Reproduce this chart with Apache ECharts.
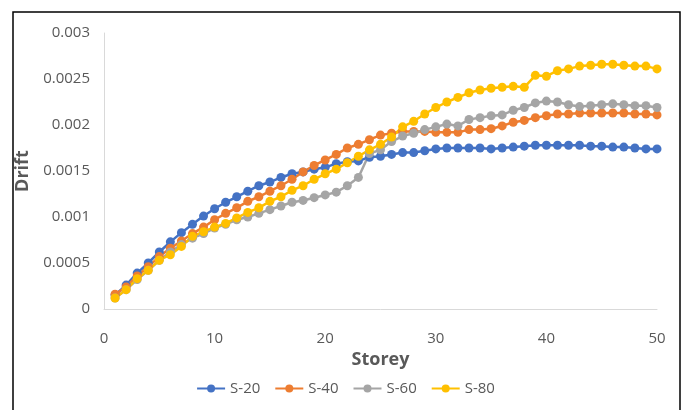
<!DOCTYPE html>
<html>
<head>
<meta charset="utf-8">
<script src="https://cdn.jsdelivr.net/npm/echarts@6/dist/echarts.min.js"></script>
<style>
  html, body { margin: 0; padding: 0; background: #fff; }
  #chart { width: 691px; height: 410px; }
</style>
</head>
<body>
<div id="chart"></div>
<script>
// Drift per storey
const storeys = Array.from({ length: 50 }, (_, i) => i + 1);
const seriesNames = ['S-20', 'S-40', 'S-60', 'S-80'];
const seriesColors = ['#4472C4', '#ED7D31', '#A5A5A5', '#FFC000'];

const s20 = [0.000152, 0.00026, 0.00039, 0.0005, 0.00062, 0.00073, 0.00083, 0.00092, 0.00101, 0.00109,
  0.00116, 0.00122, 0.00128, 0.00134, 0.00138, 0.00143, 0.00147, 0.00149, 0.00152, 0.00154,
  0.00158, 0.0016, 0.00161, 0.00165, 0.00166, 0.00168, 0.0017, 0.0017, 0.00172, 0.00174,
  0.00175, 0.00175, 0.00175, 0.00175, 0.00174, 0.00175, 0.00176, 0.00177, 0.00178, 0.00178,
  0.00178, 0.00178, 0.00178, 0.00177, 0.00177, 0.00176, 0.00176, 0.00175, 0.00174, 0.00174];
const s40 = [0.00016, 0.00024, 0.00036, 0.00046, 0.00057, 0.00066, 0.00074, 0.00082, 0.00089, 0.00097,
  0.00104, 0.0011, 0.00117, 0.00122, 0.00128, 0.00134, 0.00141, 0.00149, 0.00156, 0.00162,
  0.00168, 0.00175, 0.00179, 0.00184, 0.00189, 0.00191, 0.00193, 0.00193, 0.00193, 0.00192,
  0.00192, 0.00192, 0.00195, 0.00195, 0.00196, 0.00199, 0.00203, 0.00205, 0.00208, 0.0021,
  0.00212, 0.00212, 0.00213, 0.00213, 0.00213, 0.00213, 0.00213, 0.00212, 0.00212, 0.00211];
const s60 = [0.00012, 0.00021, 0.00032, 0.00042, 0.00053, 0.00062, 0.0007, 0.00077, 0.00082, 0.00088,
  0.00092, 0.00097, 0.001, 0.00104, 0.00108, 0.00112, 0.00116, 0.00118, 0.00121, 0.00124,
  0.00127, 0.00134, 0.00143, 0.00169, 0.00173, 0.00182, 0.00188, 0.00191, 0.00195, 0.00198,
  0.00201, 0.00199, 0.00206, 0.00208, 0.0021, 0.00211, 0.00216, 0.00219, 0.00224, 0.00226,
  0.00225, 0.00222, 0.0022, 0.00221, 0.00222, 0.00223, 0.00222, 0.00221, 0.00221, 0.00219];
const s80 = [0.00012, 0.00021, 0.00033, 0.00042, 0.00053, 0.00059, 0.00068, 0.00079, 0.00084, 0.00089,
  0.00093, 0.00099, 0.00105, 0.0011, 0.00117, 0.00122, 0.00129, 0.00134, 0.00141, 0.00147,
  0.00152, 0.00159, 0.00166, 0.00173, 0.00179, 0.00187, 0.00198, 0.00204, 0.00212, 0.00219,
  0.00225, 0.0023, 0.00235, 0.00238, 0.0024, 0.00241, 0.00242, 0.00241, 0.00254, 0.00253,
  0.00259, 0.00261, 0.00264, 0.00265, 0.00266, 0.00266, 0.00265, 0.00264, 0.00264, 0.00261];

const seriesValues = [s20, s40, s60, s80];
const yTicks = ['0', '0.0005', '0.001', '0.0015', '0.002', '0.0025', '0.003'];

const font = "'Open Sans', 'Roboto', sans-serif";
const chart = echarts.init(document.getElementById('chart'));

const option = {
  animation: false,
  backgroundColor: '#fff',
  textStyle: { fontFamily: font },
  graphic: [{
    type: 'rect',
    shape: { x: 13, y: 12, width: 667, height: 410 },
    style: { fill: 'none', stroke: '#000', lineWidth: 1.5 },
    silent: true
  }],
  grid: { left: 104, right: 34, top: 33, bottom: 101, containLabel: false },
  legend: {
    bottom: 9,
    left: 'center',
    itemWidth: 28,
    itemHeight: 10,
    itemGap: 14,
    textStyle: { color: '#595959', fontSize: 15, fontFamily: font },
    data: seriesNames
  },
  xAxis: {
    type: 'value',
    min: 0,
    max: 50,
    interval: 10,
    name: 'Storey',
    nameLocation: 'middle',
    nameGap: 32,
    nameTextStyle: { color: '#595959', fontSize: 18, fontWeight: 'bold', fontFamily: font },
    axisLine: { show: true, lineStyle: { color: '#D9D9D9', width: 1 } },
    axisTick: { show: false },
    axisLabel: { color: '#595959', fontSize: 15, margin: 22 },
    splitLine: { show: false }
  },
  yAxis: {
    type: 'value',
    min: 0,
    max: 0.003,
    interval: 0.0005,
    name: 'Drift',
    nameLocation: 'middle',
    nameGap: 64,
    nameTextStyle: { color: '#595959', fontSize: 18, fontWeight: 'bold', fontFamily: font },
    axisLine: { show: true, lineStyle: { color: '#D9D9D9', width: 1 } },
    axisTick: { show: false },
    axisLabel: {
      color: '#595959',
      fontSize: 15,
      margin: 14,
      formatter: function (v) {
        const idx = Math.round(v / 0.0005);
        return yTicks[idx] !== undefined ? yTicks[idx] : '';
      }
    },
    splitLine: { show: false }
  },
  series: seriesNames.map((name, i) => ({
    name: name,
    type: 'line',
    data: storeys.map((s, j) => [s, seriesValues[i][j]]),
    symbol: 'circle',
    symbolSize: 9,
    lineStyle: { color: seriesColors[i], width: 2.5 },
    itemStyle: { color: seriesColors[i] }
  }))
};

chart.setOption(option);
</script>
</body>
</html>
